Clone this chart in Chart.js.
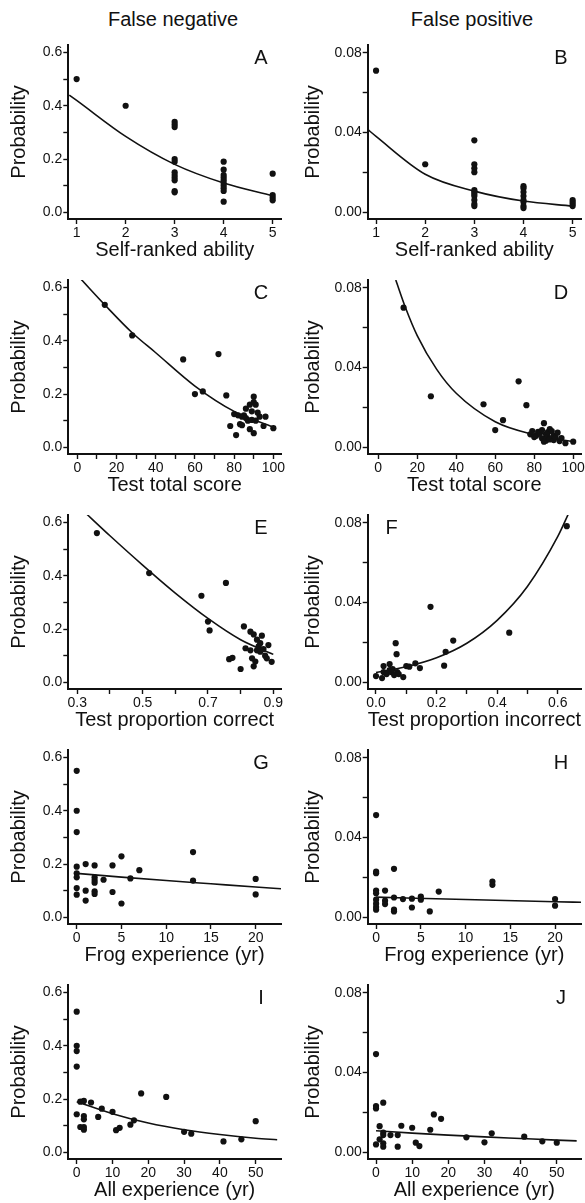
<!DOCTYPE html>
<html><head><meta charset="utf-8">
<script src="https://cdn.jsdelivr.net/npm/chart.js@4.4.1/dist/chart.umd.min.js"></script>
<style>
html,body{margin:0;padding:0;background:#fff;width:585px;height:1203px;overflow:hidden;position:relative;font-family:"Liberation Sans",Arial,sans-serif;}
.hdr{position:absolute;top:7px;font-size:20px;color:#111;transform:translateX(-50%);white-space:nowrap;line-height:24px}
.pc{position:absolute}
</style></head><body>
<div class="hdr" style="left:173px">False negative</div>
<div class="hdr" style="left:472px">False positive</div>
<script>
// ---------- data ----------
const aX = [1, 2, 3,3,3,3,3,3,3,3,3,3,3, 4,4,4,4,4,4,4,4,4,4, 5,5,5,5];
const aY = [0.50, 0.40, 0.34,0.33,0.32,0.20,0.19,0.15,0.14,0.13,0.12,0.08,0.075, 0.19,0.16,0.14,0.13,0.12,0.11,0.10,0.09,0.08,0.04, 0.145,0.065,0.055,0.045];
const aFitX = [0.85, 1, 2, 3, 4, 5];
const aFitY = [0.44, 0.42, 0.285, 0.18, 0.11, 0.062];

const bX = [1, 2, 3,3,3,3,3,3,3,3,3,3,3, 4,4,4,4,4,4,4,4, 5,5,5,5];
const bY = [0.071, 0.024, 0.036,0.024,0.022,0.020,0.011,0.010,0.009,0.008,0.006,0.004,0.003, 0.013,0.012,0.010,0.008,0.006,0.005,0.003,0.002, 0.006,0.005,0.004,0.003];
const bFitX = [0.83, 1, 2, 3, 4, 5];
const bFitY = [0.0415, 0.038, 0.019, 0.0105, 0.0055, 0.003];

const cX = [14, 28, 54, 60, 64, 72, 76, 78, 80, 81, 82, 83, 84, 84, 85, 86, 86, 87, 88, 88, 89, 89, 90, 90, 90, 91, 91, 92, 93, 95, 96, 100];
const cY = [0.535, 0.42, 0.33, 0.20, 0.21, 0.35, 0.195, 0.08, 0.125, 0.046, 0.12, 0.087, 0.115, 0.083, 0.12, 0.145, 0.11, 0.10, 0.068, 0.16, 0.103, 0.135, 0.053, 0.17, 0.19, 0.10, 0.16, 0.13, 0.115, 0.08, 0.115, 0.072];
const cFitX = [2, 14, 28, 40, 60, 80, 100];
const cFitY = [0.63, 0.535, 0.43, 0.355, 0.23, 0.135, 0.075];

const dX = [13, 27, 54, 60, 64, 72, 76, 78, 79, 80, 81, 82, 83, 84, 84, 85, 85, 86, 86, 87, 87, 88, 88, 89, 90, 90, 91, 92, 93, 94, 96, 100];
const dY = [0.070, 0.0255, 0.0215, 0.0085, 0.0135, 0.033, 0.021, 0.0064, 0.008, 0.005, 0.0057, 0.0076, 0.007, 0.0085, 0.0044, 0.012, 0.0027, 0.0065, 0.0032, 0.0052, 0.0075, 0.009, 0.0038, 0.008, 0.0035, 0.0058, 0.0048, 0.0072, 0.003, 0.0045, 0.0019, 0.0027];
const dFitX = [9, 14, 20, 30, 40, 60, 80, 100];
const dFitY = [0.0839, 0.070, 0.056, 0.039, 0.027, 0.0127, 0.0062, 0.0027];

const eX = [0.36, 0.52, 0.68, 0.70, 0.705, 0.755, 0.81, 0.765, 0.775, 0.80, 0.815, 0.83, 0.83, 0.835, 0.84, 0.84, 0.845, 0.85, 0.85, 0.855, 0.86, 0.86, 0.865, 0.87, 0.875, 0.88, 0.885, 0.895];
const eY = [0.56, 0.41, 0.325, 0.228, 0.195, 0.373, 0.21, 0.087, 0.092, 0.05, 0.128, 0.19, 0.12, 0.09, 0.18, 0.06, 0.078, 0.16, 0.12, 0.135, 0.115, 0.147, 0.175, 0.125, 0.10, 0.09, 0.14, 0.077];
const eFitX = [0.33, 0.4, 0.5, 0.6, 0.7, 0.8, 0.9];
const eFitY = [0.63, 0.55, 0.44, 0.335, 0.24, 0.16, 0.105];

const fX = [0.0, 0.02, 0.025, 0.025, 0.035, 0.045, 0.045, 0.05, 0.055, 0.06, 0.065, 0.068, 0.07, 0.075, 0.09, 0.10, 0.11, 0.13, 0.145, 0.18, 0.225, 0.23, 0.255, 0.44, 0.63];
const fY = [0.003, 0.002, 0.008, 0.005, 0.004, 0.009, 0.006, 0.005, 0.0065, 0.0035, 0.0195, 0.014, 0.005, 0.004, 0.0025, 0.008, 0.0077, 0.0094, 0.007, 0.0378, 0.0082, 0.0152, 0.0208, 0.0248, 0.0783];
const fFitX = [0, 0.1, 0.2, 0.3, 0.4, 0.5, 0.6, 0.64];
const fFitY = [0.0048, 0.0077, 0.0122, 0.0195, 0.031, 0.048, 0.073, 0.086];

const gX = [0,0,0,0,0,0,0,0, 1,1,1, 2,2,2,2,2,2, 3, 4,4, 5,5, 6, 7, 13,13, 20,20];
const gY = [0.55,0.40,0.32,0.19,0.165,0.15,0.11,0.085, 0.20,0.10,0.063, 0.195,0.15,0.14,0.13,0.098,0.088, 0.141, 0.195,0.095, 0.229,0.052, 0.146, 0.177, 0.245,0.138, 0.144,0.086];
const gFitX = [0, 5, 10, 15, 20, 23];
const gFitY = [0.165, 0.151, 0.138, 0.126, 0.114, 0.107];

const hX = [0,0,0,0,0,0,0,0,0, 1,1,1, 2,2,2,2, 3, 4,4, 5,5, 6, 7, 13,13, 20,20];
const hY = [0.0512,0.0228,0.022,0.0133,0.012,0.0087,0.0067,0.005,0.0037, 0.0133,0.0082,0.0065, 0.0242,0.0098,0.0037,0.0028, 0.009, 0.0092,0.0048, 0.0103,0.0087, 0.0028, 0.0128, 0.0178,0.0162, 0.009,0.0057];
const hFitX = [0, 10, 20, 22.9];
const hFitY = [0.0100, 0.0088, 0.0077, 0.0074];

const iX = [0,0,0,0,0, 1,1,2,2,2,2,2, 4, 6, 7, 10, 11, 12, 15, 16, 18, 25, 30, 32, 41, 46, 50];
const iY = [0.528,0.40,0.38,0.322,0.143, 0.19,0.095,0.193,0.136,0.124,0.095,0.085, 0.187, 0.133, 0.164, 0.152, 0.083, 0.092, 0.104, 0.12, 0.221, 0.208, 0.077, 0.07, 0.041, 0.049, 0.117];
const iFitX = [0, 10, 20, 30, 40, 50, 56];
const iFitY = [0.19, 0.145, 0.11, 0.085, 0.067, 0.053, 0.047];

const jX = [0,0,0,0, 2, 1,1, 2,2,2,2, 4, 6,6, 7, 10, 11, 12, 15, 16, 18, 25, 30, 32, 41, 46, 50];
const jY = [0.0492,0.0231,0.0219,0.0038, 0.0248, 0.013,0.0064, 0.0097,0.0085,0.0044,0.0027, 0.0085, 0.0085,0.0027, 0.0132, 0.0122, 0.0047, 0.003, 0.0112, 0.0189, 0.0167, 0.0074, 0.0049, 0.0094, 0.0077, 0.0054, 0.0047];
const jFitX = [0, 10, 20, 30, 40, 50, 55.5];
const jFitY = [0.0107, 0.0095, 0.0085, 0.0076, 0.0068, 0.006, 0.0056];

// ---------- tick values / labels ----------
const fnProbTicks = [0, 0.1, 0.2, 0.3, 0.4, 0.5, 0.6];
const fnProbLabels = [0, 0.2, 0.4, 0.6];
const fpProbTicks = [0, 0.02, 0.04, 0.06, 0.08];
const fpProbLabels = [0, 0.04, 0.08];
const abilityTicks = [1, 2, 3, 4, 5];
const scoreTicksC = [0, 10, 20, 30, 40, 50, 60, 70, 80, 90, 100];
const scoreTicksD = [0, 20, 40, 60, 80, 100];
const scoreLabels = [0, 20, 40, 60, 80, 100];
const correctTicks = [0.3, 0.4, 0.5, 0.6, 0.7, 0.8, 0.9];
const correctLabels = [0.3, 0.5, 0.7, 0.9];
const incorrectTicks = [0, 0.1, 0.2, 0.3, 0.4, 0.5, 0.6];
const incorrectLabels = [0, 0.2, 0.4, 0.6];
const frogTicks = [0, 5, 10, 15, 20];
const allTicks = [0, 10, 20, 30, 40, 50];

const columnTitles = ['False negative', 'False positive'];
const xTitles = ['Self-ranked ability', 'Test total score', 'Test proportion correct', 'Test proportion incorrect', 'Frog experience (yr)', 'All experience (yr)'];
const yTitle = 'Probability';
const panelLetters = ['A','B','C','D','E','F','G','H','I','J'];

// ---------- layout ----------
const FONT = '"Liberation Sans", Arial, sans-serif';
const INK = '#111';
const rowTop = [45, 280, 515, 750, 985];
const PLOT_H = 174, PAD_TOP = 10, XAXIS_H = 46;
const colGeom = [
  {left: 0, width: 292, yAxisW: 68.3, padRight: 11, yTitlePad: 7},
  {left: 290, width: 300, yAxisW: 77.7, padRight: 9, yTitlePad: 11.3}
];

const pts = (xs, ys) => xs.map((x, i) => ({x, y: ys[i]}));
const has = (arr, v) => arr.some(a => Math.abs(a - v) < 1e-9);

const panels = [
  {row:0,col:0,xs:aX,ys:aY,fx:aFitX,fy:aFitY,xMin:0.83,xMax:5.17,xT:abilityTicks,xL:abilityTicks,xD:0,xTitle:xTitles[0]},
  {row:0,col:1,xs:bX,ys:bY,fx:bFitX,fy:bFitY,xMin:0.83,xMax:5.17,xT:abilityTicks,xL:abilityTicks,xD:0,xTitle:xTitles[0]},
  {row:1,col:0,xs:cX,ys:cY,fx:cFitX,fy:cFitY,xMin:-4.6,xMax:103.9,xT:scoreTicksC,xL:scoreLabels,xD:0,xTitle:xTitles[1]},
  {row:1,col:1,xs:dX,ys:dY,fx:dFitX,fy:dFitY,xMin:-5.4,xMax:104,xT:scoreTicksD,xL:scoreLabels,xD:0,xTitle:xTitles[1]},
  {row:2,col:0,xs:eX,ys:eY,fx:eFitX,fy:eFitY,xMin:0.2725,xMax:0.9236,xT:correctTicks,xL:correctLabels,xD:1,xTitle:xTitles[2]},
  {row:2,col:1,xs:fX,ys:fY,fx:fFitX,fy:fFitY,xMin:-0.0274,xMax:0.677,xT:incorrectTicks,xL:incorrectLabels,xD:1,xTitle:xTitles[3],letterLeft:true},
  {row:3,col:0,xs:gX,ys:gY,fx:gFitX,fy:gFitY,xMin:-0.94,xMax:22.83,xT:frogTicks,xL:frogTicks,xD:0,xTitle:xTitles[4]},
  {row:3,col:1,xs:hX,ys:hY,fx:hFitX,fy:hFitY,xMin:-0.94,xMax:22.9,xT:frogTicks,xL:frogTicks,xD:0,xTitle:xTitles[4]},
  {row:4,col:0,xs:iX,ys:iY,fx:iFitX,fy:iFitY,xMin:-2.35,xMax:57.07,xT:allTicks,xL:allTicks,xD:0,xTitle:xTitles[5]},
  {row:4,col:1,xs:jX,ys:jY,fx:jFitX,fy:jFitY,xMin:-2.3,xMax:56.7,xT:allTicks,xL:allTicks,xD:0,xTitle:xTitles[5]}
];

const letterPlugin = {
  id: 'panelLetter',
  afterDraw(chart, args, opts) {
    const {ctx, chartArea: a} = chart;
    ctx.save();
    ctx.font = '20px ' + FONT;
    ctx.fillStyle = INK;
    ctx.textAlign = 'center';
    ctx.textBaseline = 'middle';
    const x = opts.left ? a.left + 24 : a.right - 20;
    ctx.fillText(opts.text, x, a.top + 13);
    ctx.restore();
  }
};

panels.forEach((p, idx) => {
  const g = colGeom[p.col];
  const fn = p.col === 0;
  const wrap = document.createElement('div');
  wrap.className = 'pc';
  wrap.style.left = g.left + 'px';
  wrap.style.top = (rowTop[p.row] - PAD_TOP) + 'px';
  const cv = document.createElement('canvas');
  cv.width = g.width;
  cv.height = PAD_TOP + PLOT_H + XAXIS_H;
  cv.style.width = g.width + 'px';
  cv.style.height = cv.height + 'px';
  wrap.appendChild(cv);
  document.body.appendChild(wrap);

  const yT = fn ? fnProbTicks : fpProbTicks;
  const yL = fn ? fnProbLabels : fpProbLabels;
  const yD = fn ? 1 : 2;

  const gridOpts = {drawOnChartArea: false, drawTicks: true, tickLength: 5, tickWidth: 1.4, tickColor: INK, color: INK};
  const borderOpts = {display: true, color: INK, width: 2};

  new Chart(cv, {
    type: 'scatter',
    data: {
      datasets: [
        {type: 'line', data: pts(p.fx, p.fy), borderColor: INK, borderWidth: 1.6, pointRadius: 0, fill: false, cubicInterpolationMode: 'monotone', order: 2},
        {data: pts(p.xs, p.ys), backgroundColor: INK, borderColor: INK, borderWidth: 0, pointRadius: 3.1, order: 1}
      ]
    },
    options: {
      responsive: false, animation: false, events: [],
      layout: {padding: {top: PAD_TOP, right: g.padRight, left: 0, bottom: 0}},
      plugins: {legend: {display: false}, tooltip: {enabled: false}, panelLetter: {text: panelLetters[idx], left: !!p.letterLeft}},
      scales: {
        x: {
          type: 'linear', position: 'bottom', min: p.xMin, max: p.xMax,
          afterBuildTicks: s => { s.ticks = p.xT.map(v => ({value: v})); },
          afterFit: s => { s.height = XAXIS_H; },
          ticks: {autoSkip: false, maxRotation: 0, padding: 1, color: INK, font: {family: FONT, size: 14, lineHeight: 1.2},
            callback: v => has(p.xL, v) ? Number(v).toFixed(p.xD) : ''},
          grid: gridOpts, border: borderOpts,
          title: {display: true, text: p.xTitle, color: INK, font: {family: FONT, size: 20, lineHeight: 1.2}, padding: {top: 0, bottom: 3}}
        },
        y: {
          type: 'linear', position: 'left', min: fn ? -0.025 : -0.0035, max: fn ? 0.628 : 0.0839,
          afterBuildTicks: s => { s.ticks = yT.map(v => ({value: v})); },
          afterFit: s => { s.width = g.yAxisW; },
          ticks: {autoSkip: false, padding: 1, color: INK, font: {family: FONT, size: 14},
            callback: v => has(yL, v) ? Number(v).toFixed(yD) : ''},
          grid: gridOpts, border: borderOpts,
          title: {display: true, text: yTitle, color: INK, font: {family: FONT, size: 20, lineHeight: 1.2}, padding: {top: g.yTitlePad, bottom: 0}}
        }
      }
    },
    plugins: [letterPlugin]
  });
});
</script>
</body></html>
